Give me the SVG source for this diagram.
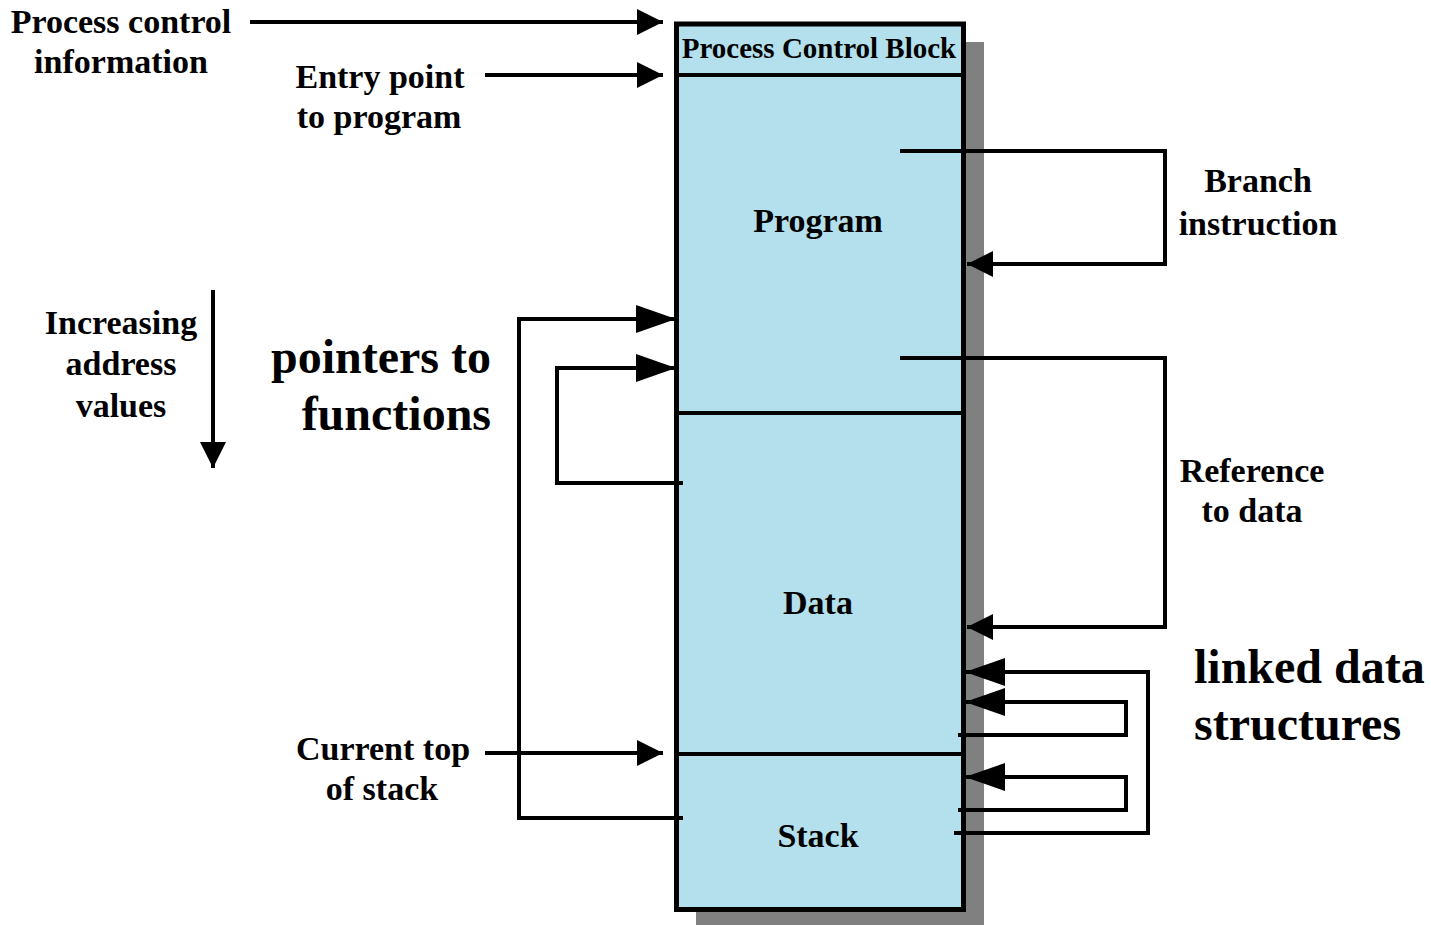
<svg xmlns="http://www.w3.org/2000/svg" width="1431" height="925" viewBox="0 0 1431 925">
  <style>
    .lbl { font-family: "Liberation Serif", "Times New Roman", serif; font-weight: bold; fill: #000; }
    .sm { font-size: 34px; }
    .pcb { font-size: 29px; }
    .big { font-size: 48px; }
    .wire { fill: none; stroke: #000; stroke-width: 4; stroke-linejoin: miter; }
    .div { stroke: #000; stroke-width: 4; }
  </style>
  <defs>
    <marker id="ah" markerUnits="userSpaceOnUse" markerWidth="26" markerHeight="26" refX="26" refY="13" orient="auto">
      <path d="M0,0 L26,13 L0,26 z" fill="#000"/>
    </marker>
    <marker id="ahL" markerUnits="userSpaceOnUse" markerWidth="40" markerHeight="30" refX="40" refY="15" orient="auto">
      <path d="M0,1 L40,15 L0,29 z" fill="#000"/>
    </marker>
  </defs>
  <rect width="1431" height="925" fill="#fff"/>

  <!-- process image in memory -->
  <g id="process-image">
    <rect x="696" y="42" width="288" height="890" fill="#808080"/>
    <rect x="676.5" y="24" width="287" height="885.5" fill="#b3e0ec" stroke="#000" stroke-width="5"/>
    <line class="div" x1="676" y1="75" x2="964" y2="75"/>
    <line class="div" x1="676" y1="413" x2="964" y2="413"/>
    <line class="div" x1="676" y1="754" x2="964" y2="754"/>
  </g>
  <g id="pcb">
    <text class="lbl pcb" x="819" y="58" text-anchor="middle">Process Control Block</text>
  </g>
  <g id="program">
    <text class="lbl sm" x="818" y="232" text-anchor="middle">Program</text>
  </g>
  <g id="data">
    <text class="lbl sm" x="818" y="614" text-anchor="middle">Data</text>
  </g>
  <g id="stack">
    <text class="lbl sm" x="818" y="847" text-anchor="middle">Stack</text>
  </g>

  <!-- labels -->
  <g id="label-pci">
    <text class="lbl sm" x="121" y="33" text-anchor="middle">Process control</text>
    <text class="lbl sm" x="121" y="73" text-anchor="middle">information</text>
  </g>
  <g id="label-entry">
    <text class="lbl sm" x="380" y="88" text-anchor="middle">Entry point</text>
    <text class="lbl sm" x="379" y="128" text-anchor="middle">to program</text>
  </g>
  <g id="label-increasing">
    <text class="lbl sm" x="121" y="334" text-anchor="middle">Increasing</text>
    <text class="lbl sm" x="121" y="375" text-anchor="middle">address</text>
    <text class="lbl sm" x="121" y="417" text-anchor="middle">values</text>
  </g>
  <g id="label-pointers">
    <text class="lbl big" x="491" y="373" text-anchor="end">pointers to</text>
    <text class="lbl big" x="491" y="430" text-anchor="end">functions</text>
  </g>
  <g id="label-stacktop">
    <text class="lbl sm" x="383" y="760" text-anchor="middle">Current top</text>
    <text class="lbl sm" x="382" y="800" text-anchor="middle">of stack</text>
  </g>
  <g id="label-branch">
    <text class="lbl sm" x="1258" y="192" text-anchor="middle">Branch</text>
    <text class="lbl sm" x="1258" y="235" text-anchor="middle">instruction</text>
  </g>
  <g id="label-reference">
    <text class="lbl sm" x="1252" y="482" text-anchor="middle">Reference</text>
    <text class="lbl sm" x="1252" y="522" text-anchor="middle">to data</text>
  </g>
  <g id="label-linked">
    <text class="lbl big" x="1194" y="683">linked data</text>
    <text class="lbl big" x="1194" y="740">structures</text>
  </g>

  <!-- connectors -->
  <g id="connectors">
    <line class="wire" x1="250" y1="22" x2="663" y2="22" marker-end="url(#ah)"/>
    <line class="wire" x1="485" y1="75" x2="663" y2="75" marker-end="url(#ah)"/>
    <line class="wire" x1="485" y1="753" x2="663" y2="753" marker-end="url(#ah)"/>
    <line class="wire" x1="213" y1="290" x2="213" y2="468" marker-end="url(#ah)"/>
    <polyline class="wire" points="900,151 1165,151 1165,264 967,264" marker-end="url(#ah)"/>
    <polyline class="wire" points="900,358 1165,358 1165,627 967,627" marker-end="url(#ah)"/>
    <polyline class="wire" points="683,818 519,818 519,319 676,319" marker-end="url(#ahL)"/>
    <polyline class="wire" points="683,483 557,483 557,368 676,368" marker-end="url(#ahL)"/>
    <polyline class="wire" points="954,833 1148,833 1148,672 965,672" marker-end="url(#ahL)"/>
    <polyline class="wire" points="958,735 1126,735 1126,702 965,702" marker-end="url(#ahL)"/>
    <polyline class="wire" points="958,810 1126,810 1126,777 965,777" marker-end="url(#ahL)"/>
  </g>
</svg>
